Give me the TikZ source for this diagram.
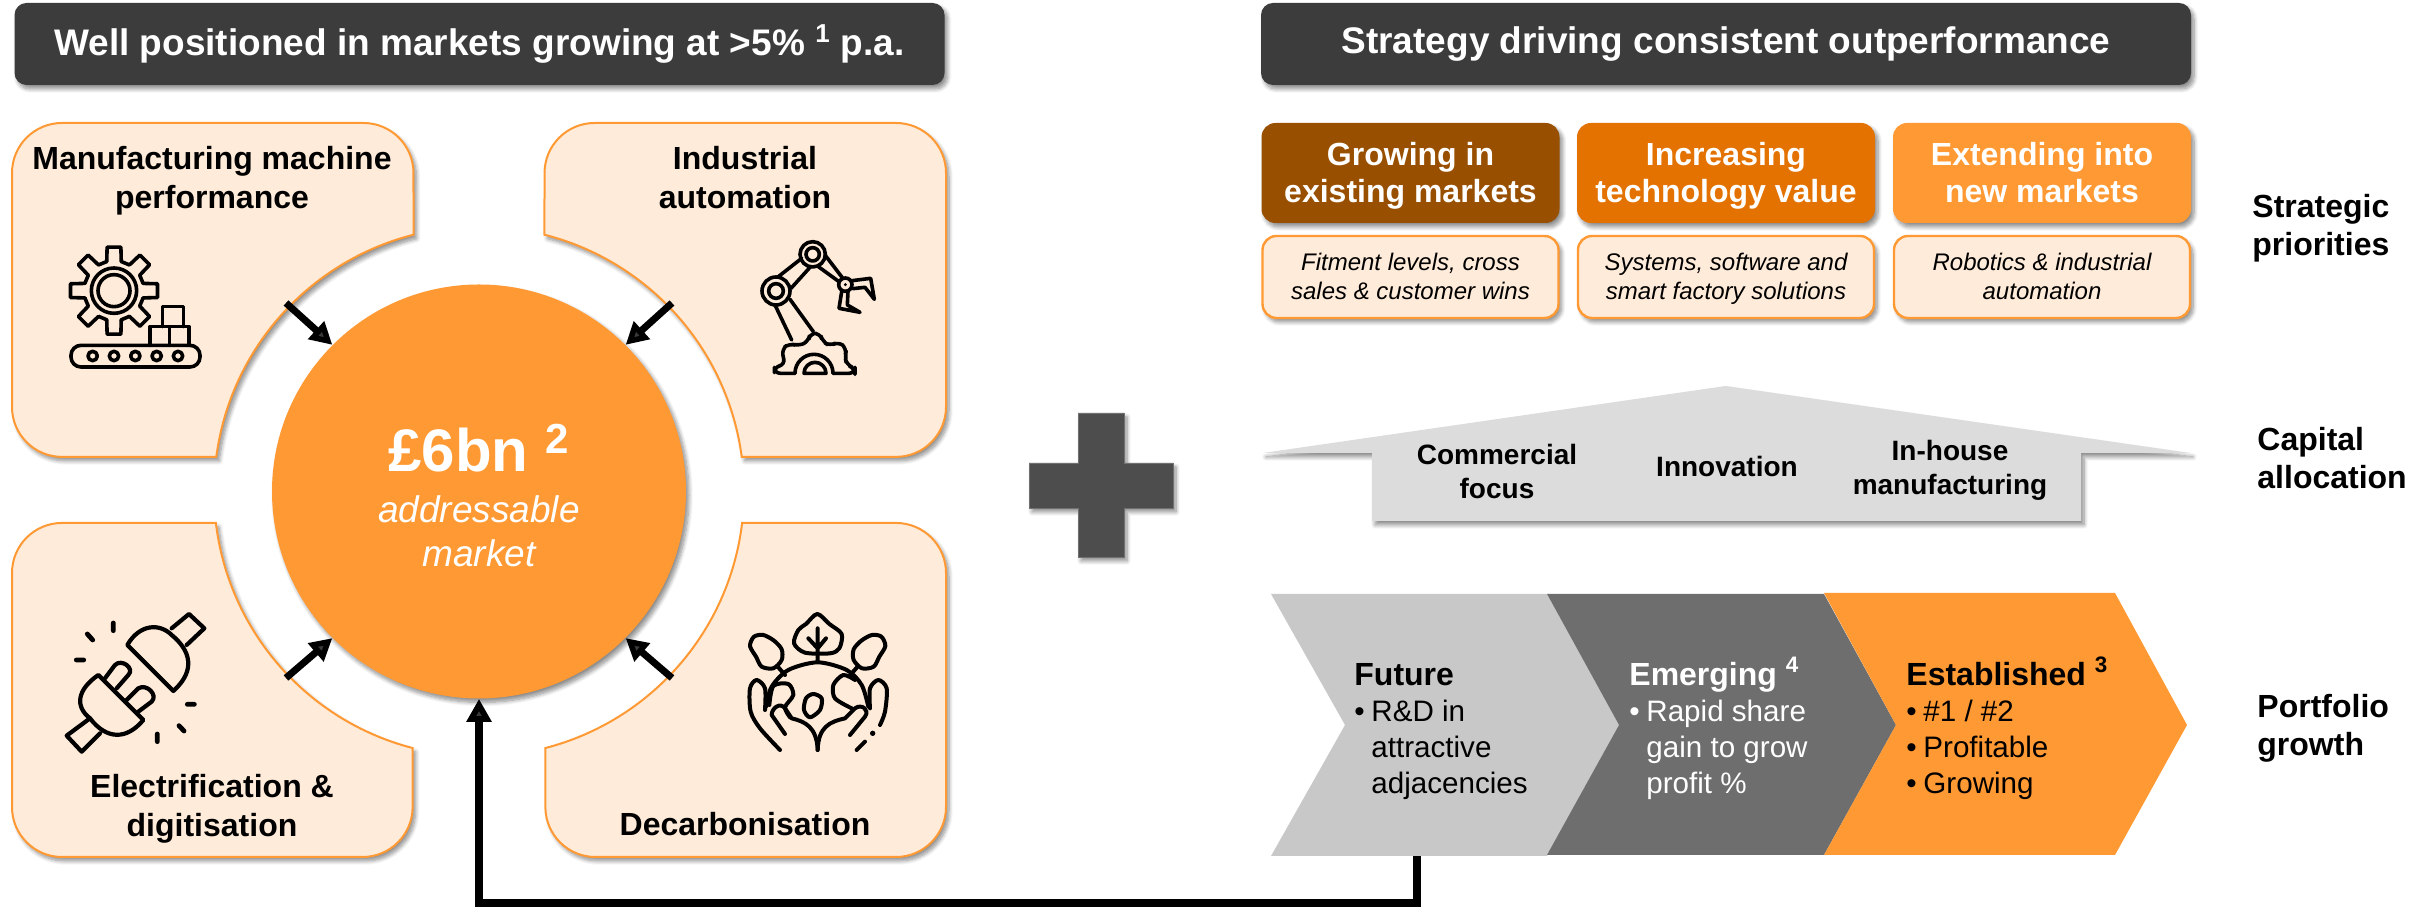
\documentclass[tikz,border=0pt]{standalone}
\usepackage{fontspec}
\setmainfont{Liberation Sans}
\usetikzlibrary{arrows.meta,shadows,shadows.blur}

\definecolor{darkhead}{HTML}{3C3C3C}
\definecolor{mainorange}{HTML}{FF9933}
\definecolor{midorange}{HTML}{E37200}
\definecolor{brownorange}{HTML}{994F00}
\definecolor{paleorange}{HTML}{FFEBD9}
\definecolor{housegrey}{HTML}{DCDCDC}
\definecolor{lightgrey}{HTML}{C8C8C8}
\definecolor{midgrey}{HTML}{6E6E6E}
\definecolor{plusgrey}{HTML}{4D4D4D}

\newcommand{\chevtitle}{\bfseries\fontsize{16}{18}\selectfont}
\newcommand{\bul}{\makebox[8.5pt][l]{•}}
\newcommand{\lstrut}{\rule[-0.2em]{0pt}{1.1em}}

\tikzset{
  softshadow/.style={blur shadow={shadow xshift=1.5pt,shadow yshift=-2pt,shadow blur radius=2pt,shadow blur steps=8,shadow opacity=45}},
  headbox/.style={rectangle,rounded corners=6pt,fill=darkhead,text=white,minimum width=465pt,minimum height=41pt,inner sep=0pt,
    font=\bfseries\fontsize{18.5}{22}\selectfont,softshadow},
  prioritybox/.style={rectangle,rounded corners=7pt,minimum width=149pt,minimum height=50pt,inner sep=0pt,text=white,align=center,
    font=\bfseries\fontsize{16}{18.5}\selectfont,softshadow},
  detailbox/.style={rectangle,rounded corners=7pt,draw=mainorange,line width=1.2pt,fill=paleorange,minimum width=148pt,minimum height=41pt,
    inner sep=0pt,align=center,font=\itshape\fontsize{12}{14.5}\selectfont,softshadow},
  quadrant/.style={draw=mainorange,line width=1pt,fill=paleorange,softshadow},
  quadlabel/.style={align=center,inner sep=0pt,font=\bfseries\fontsize{16}{19.5}\selectfont},
  sidelabel/.style={anchor=west,align=left,inner sep=0pt,font=\bfseries\fontsize{16}{19}\selectfont},
  houselabel/.style={align=center,inner sep=0pt,font=\bfseries\fontsize{14}{17}\selectfont},
  chevlabel/.style={anchor=west,align=left,inner sep=0pt,font=\fontsize{14.8}{18}\selectfont},
  pusharrow/.style={line width=3.5pt,-{Triangle[length=11pt,width=11.5pt]}},
  iconline/.style={draw=black,line width=1.8pt,line join=round,line cap=round},
  iconframe/.style={x=0.16667pt,y=-0.16667pt}
}

\begin{document}
\begin{tikzpicture}[x=0.5pt,y=0.5pt]
  \pgfmathsetmacro\ringr{265}
  \useasboundingbox (0,0) rectangle (2433,908);

% headers
  \node[headbox] (headleft) at (479.5,864) {Well positioned in markets growing at >5\% \textsuperscript{1} p.a.};
  \node[headbox] (headright) at (1726,864) {Strategy driving consistent outperformance};

% market circle
  \node[circle,fill=mainorange,minimum size=207pt,inner sep=0pt,softshadow] (market) at (479,416.5) {};
  \node[inner sep=0pt,text=white,font=\bfseries\fontsize{30}{36}\selectfont] (marketsize) at (479,460)
    {£6bn \textsuperscript{2}};
  \node[inner sep=0pt,text=white,align=center,font=\itshape\fontsize{18.5}{22}\selectfont] (marketname) at (479,377) {addressable\\market};

% quadrants around the circle
  \draw[quadrant] ([shift={(104.3:\ringr)}]market.center) arc[start angle=104.3,end angle=172.5,radius=\ringr]
    [rounded corners=25pt] -- (12,451.1) -- (12,785) -- (413.4,785) [sharp corners] -- cycle;
  \draw[quadrant] ([shift={(75.7:\ringr)}]market.center) arc[start angle=75.7,end angle=7.5,radius=\ringr]
    [rounded corners=25pt] -- (946,451.1) -- (946,785) -- (544.6,785) [sharp corners] -- cycle;
  \draw[quadrant] ([shift={(255.5:\ringr)}]market.center) arc[start angle=255.5,end angle=186.8,radius=\ringr]
    [rounded corners=25pt] -- (12,385) -- (12,51) -- (412.6,51) [sharp corners] -- cycle;
  \draw[quadrant] ([shift={(-75.5:\ringr)}]market.center) arc[start angle=-75.5,end angle=-6.8,radius=\ringr]
    [rounded corners=25pt] -- (946,385) -- (946,51) -- (545.4,51) [sharp corners] -- cycle;

  \node[quadlabel] (machine) at (212,730) {\lstrut Manufacturing machine\\\lstrut performance};
  \node[quadlabel] (automation) at (745,730) {\lstrut Industrial\\\lstrut automation};
  \node[quadlabel] (electric) at (212,102) {\lstrut Electrification \&\\\lstrut digitisation};
  \node[quadlabel] (decarbon) at (745,84) {\lstrut Decarbonisation};

% arrows into the circle
  \coordinate (fromtl) at (286,605);
  \coordinate (fromtr) at (672,605);
  \coordinate (frombl) at (286,230);
  \coordinate (frombr) at (672,230);
  \draw[pusharrow] (fromtl) -- (market.135);
  \draw[pusharrow] (fromtr) -- (market.45);
  \draw[pusharrow] (frombl) -- (market.225);
  \draw[pusharrow] (frombr) -- (market.315);

% gear and conveyor icon
  \begin{scope}[shift={(40,688)},iconframe]
    \begin{scope}[shift={(222,212)}]
      \foreach \a in {0,45,...,315}
        \draw[iconline] (\a-14:90) -- (\a-9:132) -- (\a+9:132) -- (\a+14:90) -- (\a+31:90);
      \draw[iconline] (0,0) circle[radius=68];
      \draw[iconline] (0,0) circle[radius=48];
    \end{scope}
    \draw[iconline,rounded corners=5pt] (93,376) rectangle (480,441);
    \foreach \x in {158,222,286,350,414}
      \draw[iconline] (\x,408) circle[radius=14];
    \draw[iconline] (330,376) -- (330,320) -- (447,320) -- (447,376) (388,320) -- (388,376);
    \draw[iconline] (367,320) -- (367,260) -- (430,260) -- (430,320);
  \end{scope}

% robot arm icon
  \begin{scope}[shift={(730,698)},iconframe]
    \draw[iconline] (248,133) circle[radius=38] (248,133) circle[radius=20];
    \draw[iconline] (138,243) circle[radius=42] (138,243) circle[radius=22];
    \draw[iconline] (346,224) circle[radius=20];
    \fill (346,224) circle[radius=5];
    \draw[iconline] (215,145) -- (145,200) (240,172) -- (183,235);
    \draw[iconline] (285,135) -- (337,203) (265,170) -- (327,215);
    \draw[iconline] (135,285) -- (185,390) (180,268) -- (250,365);
    \draw[iconline] (367,212) -- (422,205) -- (433,268) -- (405,232) -- (368,236);
    \draw[iconline] (335,245) -- (327,295) -- (390,307) -- (352,285) -- (354,243);
    \draw[iconline,rounded corners=3pt] (195,490) -- (133,490) -- (133,470) -- (165,465) -- (155,418) -- (178,400)
      -- (205,408) -- (235,395) -- (240,370) -- (270,370) -- (278,395) -- (300,408) -- (325,395) -- (350,415)
      -- (345,440) -- (350,465) -- (375,475) -- (375,490) -- (310,490);
    \draw[iconline] (195,490) arc[start angle=180,end angle=360,radius=57];
    \draw[iconline] (222,490) arc[start angle=180,end angle=360,radius=33] -- cycle;
  \end{scope}

% plug icon
  \begin{scope}[shift={(40,318)},iconframe,iconline/.append style={line width=2.1pt}]
    \draw[iconline] (262,165) .. controls (300,100) and (360,100) .. (395,135)
      .. controls (450,180) and (470,240) .. (400,303) -- cycle;
    \draw[iconline] (395,115) -- (447,72) -- (493,115) -- (440,165);
    \draw[iconline] (175,255) .. controls (110,300) and (105,350) .. (150,385)
      .. controls (200,450) and (260,450) .. (310,390) -- cycle;
    \draw[iconline] (195,265) -- (225,225) .. controls (245,205) and (285,235) .. (265,255) -- (230,295);
    \draw[iconline] (260,330) -- (295,295) .. controls (320,280) and (355,315) .. (335,335) -- (295,365);
    \draw[iconline] (150,385) -- (80,437) -- (125,485) -- (180,430);
    \draw[iconline,line width=2.4pt] (220,99) -- (220,122) (142,132) -- (158,150) (109,210) -- (131,210)
      (442,343) -- (463,343) (417,407) -- (432,423) (352,432) -- (352,455);
  \end{scope}

% earth and hands icon
  \begin{scope}[shift={(730,298)},iconframe,iconline/.append style={line width=2pt}]
    \draw[iconline] plot[smooth cycle] coordinates {(225,128) (192,100) (205,60) (228,42) (262,12) (298,42) (335,72) (328,115) (300,130)};
    \draw[iconline] (263,55) -- (263,155) (235,85) -- (263,115) -- (288,85);
    \draw[iconline] plot[smooth cycle] coordinates {(60,108) (72,80) (100,75) (132,92) (155,118) (155,150) (130,175) (95,170) (78,140)};
    \draw[iconline] plot[smooth cycle] coordinates {(466,108) (454,80) (426,75) (394,92) (371,118) (371,150) (396,175) (431,170) (448,140)};
    \draw[iconline] (145,172) -- (165,195) (381,172) -- (361,195);
    \draw[iconline] plot[smooth] coordinates {(108,290) (125,230) (175,180) (263,157) (350,180) (395,225) (415,290)};
    \draw[iconline] plot[smooth] coordinates {(118,285) (130,228) (175,222) (190,255) (165,292) (180,322)};
    \draw[iconline] plot[smooth] coordinates {(365,295) (315,265) (310,225) (340,195) (375,210)};
    \draw[iconline] plot[smooth cycle] coordinates {(250,252) (275,265) (270,300) (240,322) (222,300) (228,265)};
    \draw[iconline] plot[smooth] coordinates {(150,420) (90,355) (62,305) (60,235) (80,210) (105,235) (105,300)};
    \draw[iconline] (165,372) -- (125,315) .. controls (125,295) and (150,275) .. (165,295)
      -- (185,325) .. controls (225,335) and (260,350) .. (263,420);
    \draw[iconline] (360,375) -- (405,320) .. controls (420,300) and (395,280) .. (375,295)
      -- (345,325) .. controls (300,335) and (265,350) .. (263,420);
    \draw[iconline] plot[smooth] coordinates {(420,295) (420,235) (445,210) (470,235) (465,305) (450,345)};
    \fill (428,370) circle[radius=8];
    \draw[iconline] (380,420) -- (405,395);
  \end{scope}

% plus sign
  \draw[fill=plusgrey,draw=plusgrey!80!white,line width=0.3pt,softshadow] (1078,495) -- (1124,495) -- (1124,445) -- (1173,445) -- (1173,400)
    -- (1124,400) -- (1124,351) -- (1078,351) -- (1078,400) -- (1029,400) -- (1029,445) -- (1078,445) -- cycle;

% strategic priorities
  \node[prioritybox,fill=brownorange] (growing) at (1410.5,735) {\lstrut Growing in\\\lstrut existing markets};
  \node[prioritybox,fill=midorange] (increasing) at (1726,735) {\lstrut Increasing\\\lstrut technology value};
  \node[prioritybox,fill=mainorange] (extending) at (2042,735) {\lstrut Extending into\\\lstrut new markets};
  \node[detailbox] (fitment) at (1410.5,631) {\lstrut Fitment levels, cross\\\lstrut sales \& customer wins};
  \node[detailbox] (systems) at (1726,631) {\lstrut Systems, software and\\\lstrut smart factory solutions};
  \node[detailbox] (robotics) at (2042,631) {\lstrut Robotics \& industrial\\\lstrut automation};
  \node[sidelabel] (priorities) at (2252,683) {\lstrut Strategic\\\lstrut priorities};

% capital allocation house
  \draw[fill=housegrey,draw=none,softshadow] (1263,455) -- (1725.5,522) -- (2190,455) -- (2081,455) -- (2081,387)
    -- (1372,387) -- (1372,455) -- cycle;
  \node[houselabel] (commercial) at (1497,436) {\lstrut Commercial\\\lstrut focus};
  \node[houselabel] (innovation) at (1727,441) {\lstrut Innovation};
  \node[houselabel] (inhouse) at (1950,440) {\lstrut In-house\\\lstrut manufacturing};
  \node[sidelabel] (capital) at (2257,450) {\lstrut Capital\\\lstrut allocation};

% portfolio chevrons
  \fill[lightgrey] (1271,314) -- (1547,314) -- (1619,183) -- (1547,52) -- (1271,52) -- (1345,183) -- cycle;
  \fill[midgrey] (1547,314) -- (1824,314) -- (1896,183) -- (1824,53) -- (1547,53) -- (1619,183) -- cycle;
  \fill[mainorange] (1824,315) -- (2115,315) -- (2187,183) -- (2115,53) -- (1824,53) -- (1896,183) -- cycle;
  \node[chevlabel] (future) at (1354,180)
    {{\chevtitle\lstrut Future}\\\bul\lstrut R\&D in\\\hspace{8.5pt}\lstrut attractive\\\hspace{8.5pt}\lstrut adjacencies};
  \node[chevlabel,text=white] (emerging) at (1629,180)
    {{\chevtitle\lstrut Emerging \textsuperscript{4}}\\\bul\lstrut Rapid share\\\hspace{8.5pt}\lstrut gain to grow\\\hspace{8.5pt}\lstrut profit \%};
  \node[chevlabel] (established) at (1906,180)
    {{\chevtitle\lstrut Established \textsuperscript{3}}\\\bul\lstrut \#1 / \#2\\\bul\lstrut Profitable\\\bul\lstrut Growing};
  \node[sidelabel] (portfolio) at (2257,182) {\lstrut Portfolio\\\lstrut growth};

% feedback from future to the market
  \coordinate (futurefoot) at (1417,52);
  \draw[line width=3.8pt,-{Triangle[length=11.5pt,width=12pt]}] (futurefoot) -- ++(0,-47) -| (market.south);
\end{tikzpicture}
\end{document}
